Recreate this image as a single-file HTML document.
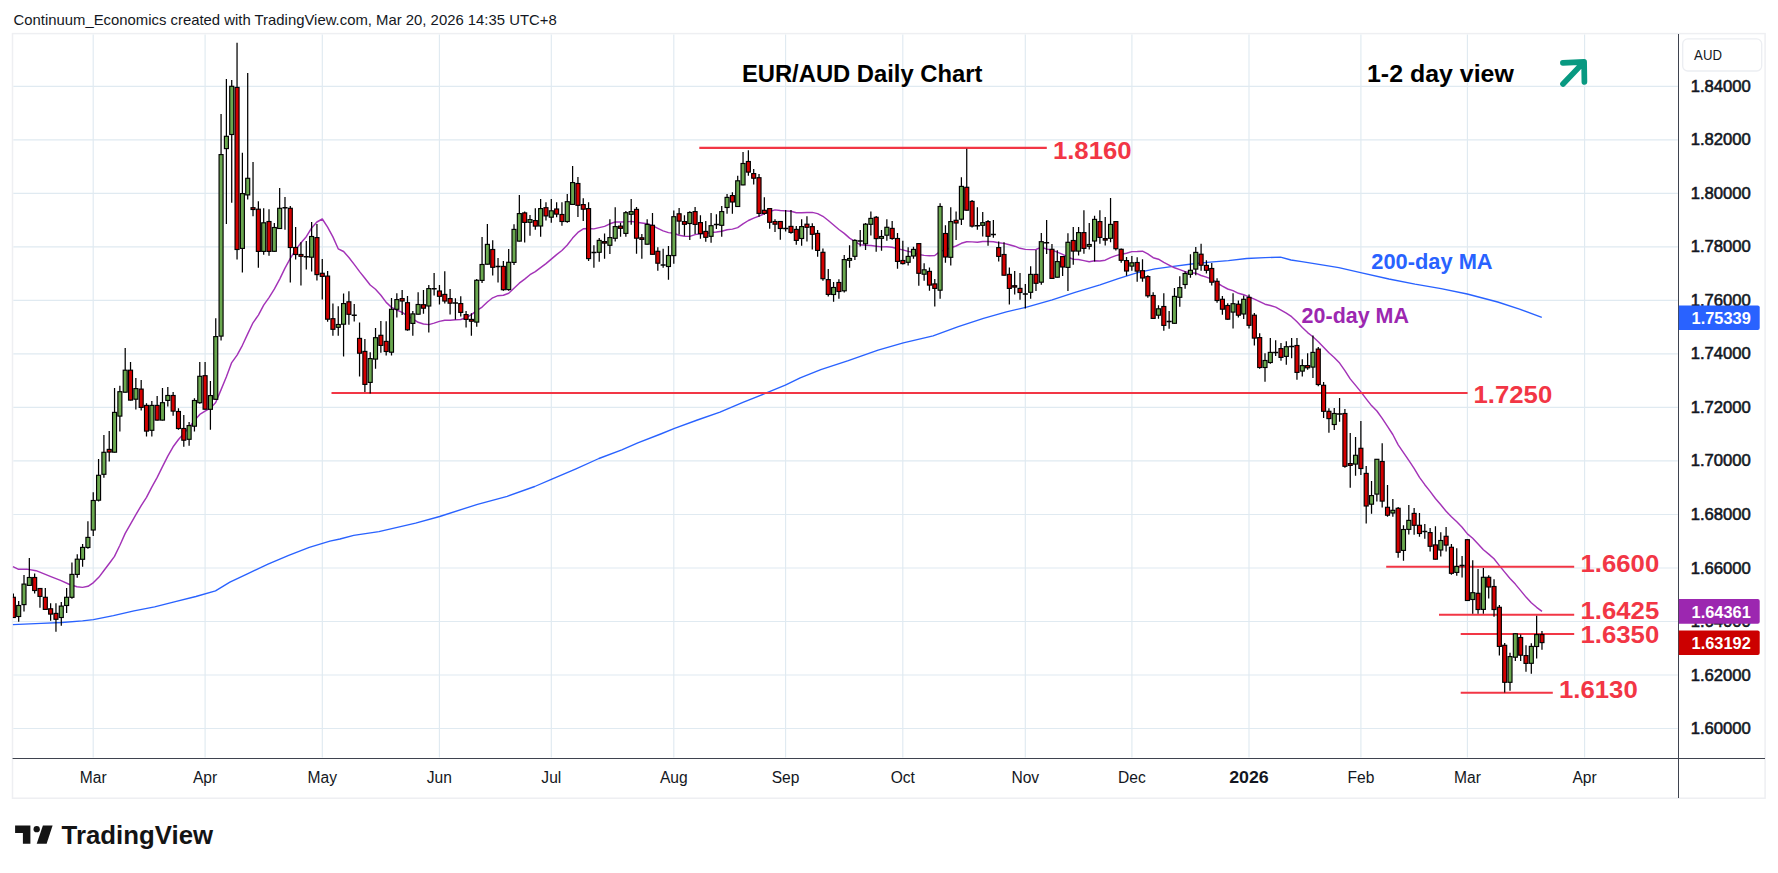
<!DOCTYPE html>
<html><head><meta charset="utf-8"><title>EUR/AUD Daily Chart</title>
<style>html,body{margin:0;padding:0;background:#fff}body{width:1778px;height:873px;overflow:hidden}svg{display:block}</style>
</head><body>
<svg width="1778" height="873" viewBox="0 0 1778 873">
<rect width="1778" height="873" fill="#ffffff"/>
<rect x="12.5" y="33.6" width="1752.6" height="764.6" fill="#ffffff" stroke="#eeeff2" stroke-width="1.5"/>
<path d="M93.2 34.4V757.5M205.1 34.4V757.5M322.3 34.4V757.5M439.4 34.4V757.5M551.3 34.4V757.5M673.8 34.4V757.5M785.6 34.4V757.5M902.8 34.4V757.5M1025.3 34.4V757.5M1131.9 34.4V757.5M1249.0 34.4V757.5M1360.9 34.4V757.5M1467.4 34.4V757.5M1584.6 34.4V757.5M13.3 728.5H1677.8M13.3 675.0H1677.8M13.3 621.5H1677.8M13.3 568.0H1677.8M13.3 514.5H1677.8M13.3 460.9H1677.8M13.3 407.4H1677.8M13.3 353.9H1677.8M13.3 300.4H1677.8M13.3 246.9H1677.8M13.3 193.4H1677.8M13.3 139.9H1677.8M13.3 86.4H1677.8" stroke="#e0eaf1" stroke-width="1.15" fill="none"/>
<polyline points="12.9,624.7 41.2,623.3 61.9,622.5 82.5,620.8 93.4,619.6 113.4,615.7 134.0,610.9 154.6,606.8 175.3,601.6 195.9,596.5 215.5,590.9 229.9,582.1 247.4,573.8 268.0,564.1 288.7,555.3 309.3,547.4 329.9,541.2 340.0,539.0 353.7,535.3 378.9,531.6 415.6,523.1 439.7,516.5 477.5,504.3 507.2,496.3 534.7,486.5 551.9,479.1 576.0,468.8 598.9,458.5 621.8,449.8 637.8,442.9 660.7,434.0 674.5,428.3 697.4,420.0 720.0,412.2 742.9,402.3 765.8,393.2 785.3,385.2 800.2,377.8 820.8,369.6 848.3,360.7 878.1,350.1 903.3,342.8 933.1,335.9 958.3,326.7 983.5,318.3 1006.4,311.9 1025.8,307.3 1052.2,299.9 1075.1,292.4 1100.0,284.9 1118.3,278.7 1136.7,272.8 1155.0,268.9 1173.3,266.4 1191.6,264.0 1210.0,262.2 1228.3,260.7 1246.6,258.5 1265.0,257.6 1280.5,257.2 1291.0,260.0 1301.8,261.6 1323.5,265.2 1338.8,267.6 1360.6,272.7 1388.9,279.0 1415.0,284.2 1441.1,288.6 1467.2,294.0 1497.7,302.0 1519.5,309.2 1541.8,317.3" fill="none" stroke="#2962ff" stroke-width="1.35" stroke-linejoin="round"/>
<polyline points="12.9,566.6 18.6,569.3 26.8,569.1 36.1,570.7 51.5,576.9 60.5,580.4 69.6,584.5 77.0,586.7 82.5,587.4 88.0,586.3 93.5,582.6 99.0,577.1 104.5,569.8 110.0,562.5 114.5,556.4 119.9,545.2 125.2,533.4 130.5,524.2 135.9,514.7 141.2,505.6 146.5,497.3 151.8,487.1 157.2,477.4 162.5,466.6 167.8,456.1 173.1,446.8 178.5,439.5 183.8,433.5 189.1,427.4 194.4,420.6 199.8,414.4 205.1,411.1 210.4,408.2 215.7,402.5 221.1,389.6 226.4,376.8 231.7,362.6 237.1,355.1 242.4,345.3 247.7,333.9 253.0,322.8 258.4,315.1 263.7,305.2 269.0,297.6 274.3,289.2 279.7,279.1 285.0,268.1 290.3,258.4 295.6,249.9 301.0,242.7 306.3,236.7 311.6,228.0 316.9,222.0 322.3,219.0 327.6,227.2 332.9,236.9 338.2,248.8 343.6,251.5 348.9,257.5 354.2,264.4 359.6,271.6 364.9,278.2 370.2,285.0 375.5,289.3 380.9,295.2 386.2,302.4 391.5,307.4 396.8,310.0 402.2,312.4 407.5,316.0 412.8,318.9 418.1,322.3 423.5,324.0 428.8,324.6 434.1,323.1 439.4,321.4 444.8,320.2 450.1,320.2 455.4,319.7 460.8,319.5 466.1,317.8 471.4,314.7 476.7,310.7 482.1,307.1 487.4,302.0 492.7,297.8 498.0,295.7 503.4,295.2 508.7,293.3 514.0,288.3 519.3,283.2 524.7,279.1 530.0,274.7 535.3,271.6 540.6,267.6 546.0,263.6 551.3,259.1 556.6,254.6 561.9,250.5 567.3,245.0 572.6,238.1 577.9,232.4 583.3,228.8 588.6,228.5 593.9,228.9 599.2,227.6 604.6,226.4 609.9,223.8 615.2,222.0 620.5,222.0 625.9,221.9 631.2,221.4 636.5,222.3 641.8,223.0 647.2,223.8 652.5,225.7 657.8,228.3 663.1,230.9 668.5,232.6 673.8,233.3 679.1,235.2 684.5,236.2 689.8,236.4 695.1,234.6 700.4,233.7 705.8,233.5 711.1,232.6 716.4,232.0 721.7,231.2 727.1,229.7 732.4,229.1 737.7,227.6 743.0,223.9 748.4,220.5 753.7,218.2 759.0,216.1 764.3,213.7 769.7,211.5 775.0,209.9 780.3,210.5 785.6,210.9 791.0,211.3 796.3,212.7 801.6,212.8 807.0,212.5 812.3,212.4 817.6,213.6 822.9,216.3 828.3,220.5 833.6,225.0 838.9,229.5 844.2,233.4 849.6,238.1 854.9,241.6 860.2,244.7 865.5,245.2 870.9,245.5 876.2,246.3 881.5,246.9 886.8,246.8 892.2,247.3 897.5,248.8 902.8,249.9 908.2,251.4 913.5,252.5 918.8,254.5 924.1,255.4 929.5,255.8 934.8,255.5 940.1,251.4 945.4,249.7 950.8,247.8 956.1,246.0 961.4,243.3 966.7,241.8 972.1,241.9 977.4,242.3 982.7,241.5 988.0,241.5 993.4,241.8 998.7,242.7 1004.0,243.4 1009.3,244.7 1014.7,246.2 1020.0,248.3 1025.3,249.4 1030.7,249.6 1036.0,249.5 1041.3,247.2 1046.6,249.0 1052.0,250.1 1057.3,252.1 1062.6,254.3 1067.9,257.1 1073.3,259.2 1078.6,259.5 1083.9,260.6 1089.2,261.7 1094.6,260.8 1099.9,261.0 1105.2,260.2 1110.5,257.6 1115.9,255.6 1121.2,254.3 1126.5,253.2 1131.9,251.6 1137.2,251.5 1142.5,251.2 1147.8,253.9 1153.2,257.7 1158.5,259.2 1163.8,262.4 1169.1,265.1 1174.5,267.8 1179.8,269.6 1185.1,271.7 1190.4,272.8 1195.8,273.2 1201.1,275.5 1206.4,277.1 1211.7,279.2 1217.1,283.0 1222.4,286.1 1227.7,289.0 1233.0,290.6 1238.4,293.3 1243.7,294.7 1249.0,297.0 1254.4,299.1 1259.7,301.6 1265.0,304.2 1270.3,305.5 1275.7,307.1 1281.0,310.1 1286.3,313.1 1291.6,316.7 1297.0,321.8 1302.3,327.5 1307.6,332.6 1312.9,336.7 1318.3,341.8 1323.6,347.3 1328.9,352.8 1334.2,357.5 1339.6,363.1 1344.9,370.6 1350.2,378.9 1355.6,385.4 1360.9,391.9 1366.2,398.9 1371.5,405.6 1376.9,411.0 1382.2,418.4 1387.5,426.3 1392.8,434.5 1398.2,444.8 1403.5,452.6 1408.8,460.4 1414.1,468.3 1419.5,477.3 1424.8,484.7 1430.1,491.4 1435.4,498.5 1440.8,504.8 1446.1,511.3 1451.4,516.7 1456.8,521.8 1462.1,527.3 1467.4,533.9 1472.7,538.2 1478.1,543.9 1483.4,549.8 1488.7,554.1 1494.0,558.8 1499.4,565.6 1504.7,572.1 1510.0,578.5 1515.3,584.1 1520.7,590.6 1526.0,597.1 1531.3,602.8 1536.6,607.3 1542.0,611.4" fill="none" stroke="#a333b7" stroke-width="1.45" stroke-linejoin="round"/>
<path d="M699.3 147.9H1046.8M331.5 393.0H1467.6M1386.2 566.7H1574.2M1439.0 614.7H1574.2M1460.7 634.0H1574.2M1460.7 692.7H1552.8" stroke="#f23645" stroke-width="2.1" fill="none"/>
<clipPath id="cp"><rect x="12.9" y="34.4" width="1664.9" height="723.3"/></clipPath>
<g clip-path="url(#cp)">
<path d="M13.35 593.6V617.8M18.68 601.0V621.7M24.00 574.9V611.6M29.33 557.9V585.8M34.65 573.5V593.6M39.98 588.1V607.7M45.31 588.1V609.8M50.63 603.2V620.8M55.96 603.2V631.8M61.29 601.9V625.7M66.61 588.1V612.9M71.94 562.5V598.8M77.26 554.2V577.7M82.59 544.1V566.7M87.92 521.2V548.7M93.24 492.3V535.9M98.57 459.1V501.6M103.90 434.9V477.8M109.22 431.1V461.5M114.55 388.0V452.5M119.87 385.8V431.6M125.20 347.9V392.6M130.53 362.0V400.5M135.85 378.1V409.6M141.18 380.0V410.6M146.50 403.2V436.6M151.83 401.0V436.6M157.16 395.9V420.5M162.48 388.0V420.5M167.81 387.1V406.5M173.14 391.9V415.7M178.46 408.2V429.8M183.79 415.1V446.7M189.11 422.1V445.8M194.44 398.3V431.6M199.77 362.0V403.8M205.09 362.0V409.6M210.42 381.0V429.8M215.75 318.3V399.6M221.07 113.9V340.6M226.40 78.9V223.9M231.72 79.9V202.8M237.05 42.8V259.6M242.38 152.7V272.4M247.70 73.1V199.5M253.03 161.9V216.3M258.36 201.3V267.7M263.68 208.3V254.8M269.01 209.2V255.8M274.33 222.9V251.7M279.66 188.1V228.8M284.99 197.1V229.7M290.31 205.9V282.5M295.64 227.0V259.6M300.96 242.2V285.6M306.29 241.1V269.5M311.62 222.0V271.5M316.94 223.9V280.5M322.27 259.0V299.4M327.60 271.0V321.8M332.92 303.4V335.7M338.25 306.2V335.7M343.57 293.4V356.6M348.90 291.3V324.7M354.23 304.1V321.6M359.55 322.5V376.5M364.88 339.0V392.1M370.21 352.3V393.6M375.53 328.0V368.7M380.86 321.0V352.7M386.18 321.2V355.5M391.51 298.1V355.5M396.84 293.2V317.5M402.16 289.9V315.1M407.49 295.9V330.7M412.82 311.1V335.7M418.14 292.2V314.6M423.47 289.9V313.7M428.79 284.9V332.6M434.12 273.0V295.5M439.45 284.9V304.5M444.77 271.2V303.6M450.10 288.9V314.6M455.42 298.3V319.4M460.75 296.3V316.6M466.08 311.1V327.6M471.40 313.3V335.7M476.73 279.0V326.7M482.06 237.1V282.9M487.38 223.9V264.5M492.71 240.2V275.5M498.03 258.1V282.5M503.36 260.9V290.8M508.69 249.0V290.8M514.01 224.2V264.9M519.34 194.9V241.5M524.67 211.4V242.6M529.99 215.1V235.8M535.32 208.3V229.7M540.64 199.1V236.7M545.97 202.2V220.6M551.30 199.1V222.8M556.62 202.2V217.3M561.95 202.2V225.7M567.27 194.0V222.8M572.60 166.1V204.8M577.93 177.1V216.9M583.25 198.2V220.9M588.58 202.2V260.9M593.91 245.3V267.7M599.23 238.0V261.8M604.56 233.4V258.7M609.88 219.3V253.9M615.21 207.2V241.6M620.54 222.8V236.7M625.86 211.0V236.7M631.19 199.1V224.8M636.52 207.0V253.7M641.84 234.1V258.8M647.17 219.3V244.5M652.49 213.0V254.6M657.82 247.3V270.8M663.15 248.8V267.8M668.47 246.0V279.7M673.80 210.6V263.8M679.12 207.9V234.5M684.45 215.2V235.8M689.78 211.2V240.0M695.10 207.0V233.9M700.43 215.2V238.7M705.76 221.1V241.8M711.08 213.0V242.7M716.41 214.3V229.0M721.73 206.1V236.8M727.06 194.1V213.8M732.39 192.3V213.8M737.71 175.8V206.8M743.04 152.0V185.3M748.37 150.2V175.8M753.69 169.0V184.4M759.02 174.0V216.7M764.34 197.3V214.7M769.67 208.3V228.8M775.00 219.3V231.9M780.32 221.1V239.8M785.65 210.1V231.6M790.98 210.1V233.8M796.30 226.1V244.8M801.63 219.3V245.7M806.95 216.3V241.6M812.28 223.3V249.5M817.61 230.1V256.8M822.93 248.4V280.7M828.26 269.1V296.6M833.58 282.0V301.8M838.91 279.2V298.8M844.24 255.0V292.6M849.56 245.3V267.8M854.89 239.3V260.0M860.22 230.1V246.6M865.54 222.9V249.9M870.87 211.4V235.6M876.19 216.0V251.7M881.52 230.1V250.8M886.85 219.3V240.7M892.17 221.1V239.8M897.50 233.0V268.8M902.83 240.7V264.5M908.15 247.2V265.5M913.48 246.8V258.8M918.80 243.2V285.7M924.13 263.3V280.8M929.46 267.4V290.7M934.78 278.9V306.6M940.11 203.2V298.7M945.44 225.2V262.8M950.76 207.3V265.5M956.09 211.5V239.9M961.41 177.2V224.9M966.74 148.8V210.6M972.07 199.9V227.6M977.39 207.3V229.8M982.72 212.0V236.6M988.04 220.1V245.8M993.37 220.1V237.7M998.70 241.4V261.5M1004.02 242.3V275.6M1009.35 267.4V304.6M1014.68 271.0V294.6M1020.00 273.0V299.7M1025.33 284.0V308.6M1030.65 266.2V298.7M1035.98 250.0V290.9M1041.31 233.0V284.7M1046.63 220.0V253.9M1051.96 244.1V278.8M1057.29 250.2V277.5M1062.61 256.1V275.9M1067.94 233.2V290.9M1073.26 227.1V264.7M1078.59 227.1V255.5M1083.92 210.2V253.7M1089.24 223.1V249.6M1094.57 215.7V261.6M1099.89 210.2V243.8M1105.22 217.0V245.6M1110.55 198.0V242.3M1115.87 221.2V250.6M1121.20 248.4V262.8M1126.53 257.0V275.7M1131.85 256.1V270.7M1137.18 257.3V281.7M1142.50 259.2V281.7M1147.83 275.3V297.8M1153.16 292.3V318.7M1158.48 305.2V318.7M1163.81 293.3V330.8M1169.14 311.0V328.8M1174.46 288.1V323.7M1179.79 276.2V306.8M1185.11 271.3V288.7M1190.44 254.2V277.7M1195.77 247.0V275.3M1201.09 243.7V270.7M1206.42 260.2V273.6M1211.74 263.0V285.5M1217.07 278.2V302.8M1222.40 296.0V314.7M1227.72 303.3V319.8M1233.05 293.2V328.6M1238.38 300.6V317.6M1243.70 295.4V318.9M1249.03 294.5V328.6M1254.35 313.0V345.5M1259.68 333.2V368.7M1265.01 353.2V381.8M1270.33 338.1V363.8M1275.66 340.3V356.1M1280.99 343.1V360.7M1286.31 341.2V364.7M1291.64 338.1V358.3M1296.96 338.1V379.7M1302.29 359.2V376.6M1307.62 353.2V369.8M1312.94 335.4V378.1M1318.27 346.9V386.2M1323.60 382.0V418.1M1328.92 408.2V432.8M1334.25 408.0V430.0M1339.57 398.1V421.8M1344.90 409.1V467.8M1350.23 432.9V487.7M1355.55 437.0V475.8M1360.88 421.0V474.9M1366.20 466.1V523.5M1371.53 481.0V513.8M1376.86 459.3V501.5M1382.18 443.2V507.5M1387.51 485.0V516.7M1392.84 499.1V516.7M1398.16 507.0V557.7M1403.49 525.3V560.7M1408.81 505.1V534.5M1414.14 507.9V534.8M1419.47 513.0V536.7M1424.79 524.0V538.7M1430.12 528.1V551.5M1435.45 526.2V559.6M1440.77 532.3V556.5M1446.10 527.1V551.5M1451.42 544.0V574.8M1456.75 548.2V575.7M1462.08 556.1V577.5M1467.40 539.2V600.9M1472.73 560.2V613.7M1478.05 568.9V613.7M1483.38 568.0V613.7M1488.71 575.2V598.5M1494.03 579.3V616.7M1499.36 605.0V655.6M1504.69 642.9V692.6M1510.01 652.7V690.7M1515.34 633.2V660.9M1520.66 634.6V660.9M1525.99 645.3V671.8M1531.32 643.3V673.7M1536.64 615.7V658.5M1541.97 630.9V649.8" stroke="#000" stroke-width="1.25" fill="none"/>
<path d="M282.44 207.7H287.54M303.74 256.8H308.84M351.68 315.3H356.78M431.57 288.8H436.67M452.87 303.0H457.97M495.48 266.4H500.58M591.36 252.6H596.46M660.60 265.0H665.70M713.86 224.5H718.96M783.10 228.6H788.20M857.67 241.1H862.77M974.84 225.8H979.94M990.82 234.6H995.92M1022.78 294.1H1027.88M1044.08 242.7H1049.18M1166.59 321.5H1171.69M1273.11 352.6H1278.21M1289.09 346.5H1294.19M1337.02 413.9H1342.12M1422.24 531.4H1427.34M1459.53 565.6H1464.63" stroke="#000" stroke-width="1.5" fill="none"/>
<g fill="#6aa84f" stroke="#000" stroke-width="1.15"><rect x="16.68" y="605.5" width="4.0" height="11.0"/><rect x="22.00" y="584.1" width="4.0" height="20.5"/><rect x="27.33" y="577.5" width="4.0" height="7.9"/><rect x="59.29" y="606.1" width="4.0" height="11.4"/><rect x="64.61" y="597.3" width="4.0" height="8.2"/><rect x="69.94" y="574.4" width="4.0" height="22.9"/><rect x="75.26" y="559.2" width="4.0" height="15.2"/><rect x="80.59" y="547.4" width="4.0" height="11.9"/><rect x="85.92" y="537.4" width="4.0" height="10.1"/><rect x="91.24" y="500.5" width="4.0" height="29.5"/><rect x="96.57" y="475.3" width="4.0" height="24.9"/><rect x="101.90" y="452.3" width="4.0" height="22.0"/><rect x="112.55" y="412.4" width="4.0" height="39.8"/><rect x="117.87" y="391.7" width="4.0" height="24.4"/><rect x="123.20" y="370.2" width="4.0" height="22.0"/><rect x="133.85" y="388.6" width="4.0" height="10.6"/><rect x="149.83" y="405.4" width="4.0" height="24.9"/><rect x="160.48" y="402.7" width="4.0" height="17.4"/><rect x="165.81" y="395.5" width="4.0" height="4.9"/><rect x="187.11" y="425.6" width="4.0" height="13.7"/><rect x="192.44" y="400.5" width="4.0" height="25.7"/><rect x="197.77" y="376.3" width="4.0" height="26.4"/><rect x="208.42" y="395.6" width="4.0" height="13.7"/><rect x="213.75" y="336.6" width="4.0" height="62.7"/><rect x="219.07" y="154.6" width="4.0" height="181.5"/><rect x="224.40" y="136.3" width="4.0" height="12.3"/><rect x="229.72" y="86.3" width="4.0" height="48.2"/><rect x="240.38" y="193.6" width="4.0" height="54.8"/><rect x="245.70" y="178.3" width="4.0" height="16.6"/><rect x="261.68" y="222.8" width="4.0" height="28.6"/><rect x="272.33" y="227.5" width="4.0" height="23.8"/><rect x="277.66" y="208.3" width="4.0" height="20.2"/><rect x="309.62" y="236.5" width="4.0" height="20.7"/><rect x="336.25" y="324.5" width="4.0" height="2.8"/><rect x="341.57" y="303.6" width="4.0" height="20.6"/><rect x="368.21" y="358.6" width="4.0" height="23.8"/><rect x="373.53" y="337.7" width="4.0" height="21.4"/><rect x="389.51" y="309.3" width="4.0" height="42.9"/><rect x="394.84" y="299.6" width="4.0" height="9.7"/><rect x="410.82" y="313.9" width="4.0" height="9.5"/><rect x="416.14" y="304.5" width="4.0" height="9.7"/><rect x="426.79" y="288.6" width="4.0" height="17.4"/><rect x="474.73" y="280.3" width="4.0" height="41.8"/><rect x="480.06" y="264.5" width="4.0" height="15.9"/><rect x="485.38" y="244.4" width="4.0" height="19.8"/><rect x="506.69" y="262.3" width="4.0" height="27.3"/><rect x="512.01" y="229.4" width="4.0" height="33.0"/><rect x="517.34" y="213.6" width="4.0" height="27.5"/><rect x="527.99" y="219.6" width="4.0" height="2.7"/><rect x="538.64" y="208.6" width="4.0" height="17.4"/><rect x="549.30" y="210.8" width="4.0" height="6.4"/><rect x="565.27" y="201.7" width="4.0" height="19.8"/><rect x="570.60" y="182.6" width="4.0" height="21.8"/><rect x="597.23" y="240.4" width="4.0" height="11.9"/><rect x="607.88" y="237.6" width="4.0" height="7.7"/><rect x="613.21" y="226.6" width="4.0" height="11.7"/><rect x="623.86" y="212.7" width="4.0" height="20.7"/><rect x="629.19" y="211.6" width="4.0" height="2.7"/><rect x="645.17" y="224.4" width="4.0" height="19.8"/><rect x="666.47" y="255.5" width="4.0" height="11.0"/><rect x="671.80" y="216.7" width="4.0" height="38.9"/><rect x="687.78" y="212.5" width="4.0" height="11.0"/><rect x="709.08" y="225.7" width="4.0" height="10.6"/><rect x="719.73" y="211.6" width="4.0" height="13.7"/><rect x="725.06" y="197.4" width="4.0" height="10.1"/><rect x="735.71" y="180.8" width="4.0" height="25.7"/><rect x="741.04" y="163.5" width="4.0" height="21.4"/><rect x="799.63" y="226.6" width="4.0" height="11.9"/><rect x="831.58" y="287.5" width="4.0" height="7.0"/><rect x="842.24" y="259.6" width="4.0" height="31.2"/><rect x="847.56" y="258.5" width="4.0" height="1.8"/><rect x="852.89" y="240.4" width="4.0" height="15.9"/><rect x="863.54" y="224.2" width="4.0" height="19.6"/><rect x="868.87" y="218.4" width="4.0" height="5.9"/><rect x="879.52" y="236.5" width="4.0" height="1.8"/><rect x="884.85" y="227.3" width="4.0" height="7.9"/><rect x="906.15" y="256.4" width="4.0" height="5.9"/><rect x="911.48" y="249.4" width="4.0" height="6.6"/><rect x="922.13" y="269.8" width="4.0" height="4.4"/><rect x="938.11" y="206.5" width="4.0" height="83.7"/><rect x="948.76" y="221.6" width="4.0" height="35.7"/><rect x="959.41" y="186.4" width="4.0" height="32.8"/><rect x="980.72" y="222.7" width="4.0" height="2.6"/><rect x="1028.65" y="274.4" width="4.0" height="17.9"/><rect x="1039.31" y="241.7" width="4.0" height="40.5"/><rect x="1055.29" y="261.6" width="4.0" height="15.6"/><rect x="1065.94" y="242.3" width="4.0" height="25.1"/><rect x="1076.59" y="232.6" width="4.0" height="18.5"/><rect x="1087.24" y="244.5" width="4.0" height="1.8"/><rect x="1092.57" y="219.4" width="4.0" height="21.6"/><rect x="1108.55" y="224.4" width="4.0" height="13.9"/><rect x="1129.85" y="262.8" width="4.0" height="3.3"/><rect x="1156.48" y="308.8" width="4.0" height="6.4"/><rect x="1172.46" y="296.4" width="4.0" height="26.9"/><rect x="1177.79" y="287.6" width="4.0" height="9.7"/><rect x="1183.11" y="273.5" width="4.0" height="11.0"/><rect x="1188.44" y="270.3" width="4.0" height="4.0"/><rect x="1193.77" y="252.4" width="4.0" height="16.7"/><rect x="1231.05" y="303.7" width="4.0" height="8.4"/><rect x="1241.70" y="299.3" width="4.0" height="14.7"/><rect x="1263.01" y="360.5" width="4.0" height="7.0"/><rect x="1268.33" y="352.4" width="4.0" height="10.1"/><rect x="1284.31" y="346.7" width="4.0" height="9.7"/><rect x="1300.29" y="365.6" width="4.0" height="5.5"/><rect x="1310.94" y="352.4" width="4.0" height="14.7"/><rect x="1332.25" y="413.5" width="4.0" height="11.0"/><rect x="1353.55" y="455.3" width="4.0" height="8.8"/><rect x="1369.53" y="495.6" width="4.0" height="8.6"/><rect x="1374.86" y="459.3" width="4.0" height="34.8"/><rect x="1390.84" y="510.3" width="4.0" height="2.7"/><rect x="1401.49" y="529.5" width="4.0" height="20.9"/><rect x="1406.81" y="520.4" width="4.0" height="9.0"/><rect x="1438.77" y="540.5" width="4.0" height="9.5"/><rect x="1454.75" y="566.5" width="4.0" height="5.9"/><rect x="1470.73" y="592.7" width="4.0" height="6.8"/><rect x="1481.38" y="577.3" width="4.0" height="32.1"/><rect x="1508.01" y="656.6" width="4.0" height="25.7"/><rect x="1513.34" y="633.8" width="4.0" height="23.4"/><rect x="1529.32" y="646.4" width="4.0" height="16.9"/><rect x="1534.64" y="634.6" width="4.0" height="11.9"/></g>
<g fill="#d40000" stroke="#000" stroke-width="1.15"><rect x="11.35" y="597.3" width="4.0" height="20.2"/><rect x="32.65" y="577.5" width="4.0" height="13.0"/><rect x="37.98" y="588.5" width="4.0" height="7.9"/><rect x="43.31" y="597.3" width="4.0" height="12.1"/><rect x="48.63" y="608.8" width="4.0" height="5.3"/><rect x="53.96" y="613.4" width="4.0" height="5.9"/><rect x="107.22" y="449.4" width="4.0" height="2.7"/><rect x="128.53" y="370.2" width="4.0" height="29.9"/><rect x="139.18" y="389.1" width="4.0" height="18.3"/><rect x="144.50" y="405.4" width="4.0" height="25.7"/><rect x="155.16" y="405.4" width="4.0" height="14.7"/><rect x="171.14" y="395.5" width="4.0" height="15.6"/><rect x="176.46" y="411.5" width="4.0" height="17.0"/><rect x="181.79" y="428.5" width="4.0" height="11.7"/><rect x="203.09" y="375.7" width="4.0" height="33.5"/><rect x="235.05" y="87.4" width="4.0" height="162.1"/><rect x="251.03" y="207.7" width="4.0" height="1.8"/><rect x="256.36" y="209.2" width="4.0" height="42.2"/><rect x="267.01" y="221.5" width="4.0" height="29.9"/><rect x="288.31" y="208.3" width="4.0" height="39.2"/><rect x="293.64" y="247.5" width="4.0" height="7.0"/><rect x="298.96" y="254.5" width="4.0" height="1.8"/><rect x="314.94" y="237.6" width="4.0" height="37.0"/><rect x="320.27" y="273.3" width="4.0" height="3.1"/><rect x="325.60" y="276.1" width="4.0" height="43.1"/><rect x="330.92" y="318.7" width="4.0" height="10.6"/><rect x="346.90" y="301.8" width="4.0" height="12.5"/><rect x="357.55" y="338.4" width="4.0" height="14.8"/><rect x="362.88" y="351.4" width="4.0" height="33.0"/><rect x="378.86" y="335.3" width="4.0" height="10.1"/><rect x="384.18" y="341.4" width="4.0" height="10.1"/><rect x="400.16" y="298.6" width="4.0" height="2.4"/><rect x="405.49" y="302.7" width="4.0" height="27.1"/><rect x="421.47" y="304.7" width="4.0" height="3.5"/><rect x="437.45" y="291.0" width="4.0" height="5.3"/><rect x="442.77" y="294.4" width="4.0" height="6.6"/><rect x="448.10" y="298.6" width="4.0" height="4.6"/><rect x="458.75" y="303.6" width="4.0" height="8.8"/><rect x="464.08" y="314.6" width="4.0" height="4.8"/><rect x="469.40" y="319.4" width="4.0" height="1.8"/><rect x="490.71" y="249.5" width="4.0" height="17.8"/><rect x="501.36" y="266.4" width="4.0" height="23.3"/><rect x="522.67" y="212.9" width="4.0" height="9.5"/><rect x="533.32" y="220.6" width="4.0" height="5.5"/><rect x="543.97" y="207.7" width="4.0" height="8.2"/><rect x="554.62" y="209.0" width="4.0" height="5.1"/><rect x="559.95" y="214.5" width="4.0" height="7.0"/><rect x="575.93" y="183.5" width="4.0" height="21.8"/><rect x="581.25" y="204.6" width="4.0" height="4.6"/><rect x="586.58" y="208.6" width="4.0" height="50.0"/><rect x="602.56" y="241.6" width="4.0" height="1.5"/><rect x="618.54" y="226.1" width="4.0" height="2.2"/><rect x="634.52" y="209.4" width="4.0" height="28.8"/><rect x="639.84" y="237.8" width="4.0" height="1.6"/><rect x="650.49" y="225.3" width="4.0" height="29.0"/><rect x="655.82" y="251.3" width="4.0" height="11.9"/><rect x="677.12" y="213.8" width="4.0" height="7.3"/><rect x="682.45" y="221.6" width="4.0" height="2.7"/><rect x="693.10" y="211.6" width="4.0" height="12.8"/><rect x="698.43" y="222.6" width="4.0" height="11.0"/><rect x="703.76" y="231.4" width="4.0" height="5.9"/><rect x="730.39" y="195.6" width="4.0" height="6.4"/><rect x="746.37" y="161.5" width="4.0" height="10.6"/><rect x="751.69" y="173.6" width="4.0" height="4.6"/><rect x="757.02" y="177.7" width="4.0" height="35.7"/><rect x="762.34" y="210.3" width="4.0" height="3.1"/><rect x="767.67" y="208.6" width="4.0" height="13.7"/><rect x="773.00" y="221.5" width="4.0" height="2.7"/><rect x="778.32" y="221.5" width="4.0" height="7.0"/><rect x="788.98" y="226.4" width="4.0" height="6.0"/><rect x="794.30" y="229.4" width="4.0" height="11.0"/><rect x="804.95" y="224.2" width="4.0" height="3.1"/><rect x="810.28" y="226.6" width="4.0" height="7.7"/><rect x="815.61" y="233.4" width="4.0" height="17.0"/><rect x="820.93" y="252.3" width="4.0" height="26.4"/><rect x="826.26" y="279.6" width="4.0" height="14.8"/><rect x="836.91" y="282.5" width="4.0" height="9.0"/><rect x="874.19" y="217.3" width="4.0" height="21.3"/><rect x="890.17" y="228.4" width="4.0" height="10.1"/><rect x="895.50" y="238.5" width="4.0" height="22.9"/><rect x="900.83" y="260.5" width="4.0" height="3.1"/><rect x="916.80" y="243.6" width="4.0" height="29.7"/><rect x="927.46" y="271.4" width="4.0" height="13.7"/><rect x="932.78" y="283.9" width="4.0" height="4.5"/><rect x="943.44" y="233.5" width="4.0" height="23.5"/><rect x="954.09" y="220.3" width="4.0" height="2.7"/><rect x="964.74" y="187.3" width="4.0" height="22.9"/><rect x="970.07" y="201.4" width="4.0" height="24.7"/><rect x="986.04" y="221.6" width="4.0" height="14.7"/><rect x="996.70" y="247.6" width="4.0" height="8.8"/><rect x="1002.02" y="254.5" width="4.0" height="20.7"/><rect x="1007.35" y="274.4" width="4.0" height="14.0"/><rect x="1012.68" y="285.7" width="4.0" height="1.4"/><rect x="1018.00" y="288.4" width="4.0" height="4.1"/><rect x="1033.98" y="274.4" width="4.0" height="8.9"/><rect x="1049.96" y="249.3" width="4.0" height="29.1"/><rect x="1060.61" y="256.6" width="4.0" height="10.4"/><rect x="1071.26" y="240.5" width="4.0" height="10.6"/><rect x="1081.92" y="232.6" width="4.0" height="15.8"/><rect x="1097.89" y="221.6" width="4.0" height="15.8"/><rect x="1103.22" y="238.6" width="4.0" height="1.5"/><rect x="1113.87" y="221.6" width="4.0" height="27.1"/><rect x="1119.20" y="249.3" width="4.0" height="11.0"/><rect x="1124.53" y="260.6" width="4.0" height="10.4"/><rect x="1135.18" y="262.5" width="4.0" height="8.6"/><rect x="1140.50" y="270.7" width="4.0" height="7.3"/><rect x="1145.83" y="276.6" width="4.0" height="19.2"/><rect x="1151.16" y="295.5" width="4.0" height="22.9"/><rect x="1161.81" y="306.5" width="4.0" height="18.9"/><rect x="1199.09" y="254.2" width="4.0" height="11.0"/><rect x="1204.42" y="265.4" width="4.0" height="4.9"/><rect x="1209.74" y="268.5" width="4.0" height="13.7"/><rect x="1215.07" y="281.3" width="4.0" height="19.2"/><rect x="1220.40" y="299.3" width="4.0" height="9.9"/><rect x="1225.72" y="305.5" width="4.0" height="13.7"/><rect x="1236.38" y="304.2" width="4.0" height="11.0"/><rect x="1247.03" y="297.4" width="4.0" height="27.9"/><rect x="1252.35" y="315.2" width="4.0" height="22.9"/><rect x="1257.68" y="337.6" width="4.0" height="29.9"/><rect x="1278.99" y="348.6" width="4.0" height="8.8"/><rect x="1294.96" y="345.5" width="4.0" height="26.9"/><rect x="1305.62" y="365.6" width="4.0" height="2.2"/><rect x="1316.27" y="349.1" width="4.0" height="35.4"/><rect x="1321.60" y="385.3" width="4.0" height="26.0"/><rect x="1326.92" y="411.3" width="4.0" height="7.3"/><rect x="1342.90" y="413.5" width="4.0" height="52.8"/><rect x="1348.23" y="463.6" width="4.0" height="1.8"/><rect x="1358.88" y="448.3" width="4.0" height="20.2"/><rect x="1364.20" y="473.4" width="4.0" height="32.6"/><rect x="1380.18" y="461.5" width="4.0" height="39.6"/><rect x="1385.51" y="507.3" width="4.0" height="7.9"/><rect x="1396.16" y="508.3" width="4.0" height="44.0"/><rect x="1412.14" y="513.4" width="4.0" height="11.9"/><rect x="1417.47" y="525.3" width="4.0" height="8.2"/><rect x="1428.12" y="532.6" width="4.0" height="13.7"/><rect x="1433.45" y="544.9" width="4.0" height="14.3"/><rect x="1444.10" y="536.3" width="4.0" height="8.8"/><rect x="1449.42" y="547.3" width="4.0" height="26.0"/><rect x="1465.40" y="539.7" width="4.0" height="60.8"/><rect x="1476.05" y="593.3" width="4.0" height="16.2"/><rect x="1486.71" y="577.3" width="4.0" height="9.7"/><rect x="1492.03" y="586.5" width="4.0" height="23.0"/><rect x="1497.36" y="607.3" width="4.0" height="39.1"/><rect x="1502.69" y="645.3" width="4.0" height="37.0"/><rect x="1518.66" y="637.5" width="4.0" height="17.7"/><rect x="1523.99" y="655.6" width="4.0" height="7.8"/><rect x="1539.97" y="634.6" width="4.0" height="8.0"/></g>
</g>
<text x="1052.9" y="158.8" font-family='"Liberation Sans", Arial, sans-serif' font-size="24" fill="#f23645" font-weight="bold" text-anchor="start" textLength="78.7" lengthAdjust="spacingAndGlyphs">1.8160</text>
<text x="1473.5" y="402.6" font-family='"Liberation Sans", Arial, sans-serif' font-size="24" fill="#f23645" font-weight="bold" text-anchor="start" textLength="78.7" lengthAdjust="spacingAndGlyphs">1.7250</text>
<text x="1580.5" y="571.8" font-family='"Liberation Sans", Arial, sans-serif' font-size="24" fill="#f23645" font-weight="bold" text-anchor="start" textLength="78.7" lengthAdjust="spacingAndGlyphs">1.6600</text>
<text x="1580.5" y="619.0" font-family='"Liberation Sans", Arial, sans-serif' font-size="24" fill="#f23645" font-weight="bold" text-anchor="start" textLength="78.7" lengthAdjust="spacingAndGlyphs">1.6425</text>
<text x="1580.5" y="642.6" font-family='"Liberation Sans", Arial, sans-serif' font-size="24" fill="#f23645" font-weight="bold" text-anchor="start" textLength="78.7" lengthAdjust="spacingAndGlyphs">1.6350</text>
<text x="1559.0" y="698.4" font-family='"Liberation Sans", Arial, sans-serif' font-size="24" fill="#f23645" font-weight="bold" text-anchor="start" textLength="78.7" lengthAdjust="spacingAndGlyphs">1.6130</text>
<text x="1371.3" y="268.9" font-family='"Liberation Sans", Arial, sans-serif' font-size="22" fill="#2962ff" font-weight="bold" text-anchor="start" textLength="121.3" lengthAdjust="spacingAndGlyphs">200-day MA</text>
<text x="1301.6" y="322.9" font-family='"Liberation Sans", Arial, sans-serif' font-size="22" fill="#9c27b0" font-weight="bold" text-anchor="start" textLength="107.4" lengthAdjust="spacingAndGlyphs">20-day MA</text>
<text x="741.9" y="81.7" font-family='"Liberation Sans", Arial, sans-serif' font-size="24" fill="#000" font-weight="bold" text-anchor="start" textLength="240.5" lengthAdjust="spacingAndGlyphs">EUR/AUD Daily Chart</text>
<text x="1367.0" y="82.2" font-family='"Liberation Sans", Arial, sans-serif' font-size="24" fill="#000" font-weight="bold" text-anchor="start" textLength="146.8" lengthAdjust="spacingAndGlyphs">1-2 day view</text>
<path d="M1563 84L1583.6 62.4M1562.9 62.8L1584.1 61.8L1584.4 81.9" stroke="#089981" stroke-width="5.7" stroke-linecap="round" stroke-linejoin="round" fill="none"/>
<text x="13.5" y="24.8" font-family='"Liberation Sans", Arial, sans-serif' font-size="14.6" fill="#131722" font-weight="normal" text-anchor="start" textLength="543.2" lengthAdjust="spacingAndGlyphs">Continuum_Economics created with TradingView.com, Mar 20, 2026 14:35 UTC+8</text>
<path d="M1678.5 34V798M12.6 758.5H1765" stroke="#3f434f" stroke-width="1" fill="none"/>
<text x="1690.7" y="734.0" font-family='"Liberation Sans", Arial, sans-serif' font-size="15.6" fill="#131722" font-weight="normal" text-anchor="start" textLength="60.2" lengthAdjust="spacingAndGlyphs" stroke="#131722" stroke-width="0.55">1.60000</text>
<text x="1690.7" y="680.5" font-family='"Liberation Sans", Arial, sans-serif' font-size="15.6" fill="#131722" font-weight="normal" text-anchor="start" textLength="60.2" lengthAdjust="spacingAndGlyphs" stroke="#131722" stroke-width="0.55">1.62000</text>
<text x="1690.7" y="627.0" font-family='"Liberation Sans", Arial, sans-serif' font-size="15.6" fill="#131722" font-weight="normal" text-anchor="start" textLength="60.2" lengthAdjust="spacingAndGlyphs" stroke="#131722" stroke-width="0.55">1.64000</text>
<text x="1690.7" y="573.5" font-family='"Liberation Sans", Arial, sans-serif' font-size="15.6" fill="#131722" font-weight="normal" text-anchor="start" textLength="60.2" lengthAdjust="spacingAndGlyphs" stroke="#131722" stroke-width="0.55">1.66000</text>
<text x="1690.7" y="520.0" font-family='"Liberation Sans", Arial, sans-serif' font-size="15.6" fill="#131722" font-weight="normal" text-anchor="start" textLength="60.2" lengthAdjust="spacingAndGlyphs" stroke="#131722" stroke-width="0.55">1.68000</text>
<text x="1690.7" y="466.4" font-family='"Liberation Sans", Arial, sans-serif' font-size="15.6" fill="#131722" font-weight="normal" text-anchor="start" textLength="60.2" lengthAdjust="spacingAndGlyphs" stroke="#131722" stroke-width="0.55">1.70000</text>
<text x="1690.7" y="412.9" font-family='"Liberation Sans", Arial, sans-serif' font-size="15.6" fill="#131722" font-weight="normal" text-anchor="start" textLength="60.2" lengthAdjust="spacingAndGlyphs" stroke="#131722" stroke-width="0.55">1.72000</text>
<text x="1690.7" y="359.4" font-family='"Liberation Sans", Arial, sans-serif' font-size="15.6" fill="#131722" font-weight="normal" text-anchor="start" textLength="60.2" lengthAdjust="spacingAndGlyphs" stroke="#131722" stroke-width="0.55">1.74000</text>
<text x="1690.7" y="305.9" font-family='"Liberation Sans", Arial, sans-serif' font-size="15.6" fill="#131722" font-weight="normal" text-anchor="start" textLength="60.2" lengthAdjust="spacingAndGlyphs" stroke="#131722" stroke-width="0.55">1.76000</text>
<text x="1690.7" y="252.4" font-family='"Liberation Sans", Arial, sans-serif' font-size="15.6" fill="#131722" font-weight="normal" text-anchor="start" textLength="60.2" lengthAdjust="spacingAndGlyphs" stroke="#131722" stroke-width="0.55">1.78000</text>
<text x="1690.7" y="198.9" font-family='"Liberation Sans", Arial, sans-serif' font-size="15.6" fill="#131722" font-weight="normal" text-anchor="start" textLength="60.2" lengthAdjust="spacingAndGlyphs" stroke="#131722" stroke-width="0.55">1.80000</text>
<text x="1690.7" y="145.4" font-family='"Liberation Sans", Arial, sans-serif' font-size="15.6" fill="#131722" font-weight="normal" text-anchor="start" textLength="60.2" lengthAdjust="spacingAndGlyphs" stroke="#131722" stroke-width="0.55">1.82000</text>
<text x="1690.7" y="91.9" font-family='"Liberation Sans", Arial, sans-serif' font-size="15.6" fill="#131722" font-weight="normal" text-anchor="start" textLength="60.2" lengthAdjust="spacingAndGlyphs" stroke="#131722" stroke-width="0.55">1.84000</text>
<rect x="1682.7" y="38.9" width="79" height="32.1" rx="5" fill="#fff" stroke="#eceef2" stroke-width="1.3"/>
<text x="1694.1" y="59.6" font-family='"Liberation Sans", Arial, sans-serif' font-size="14" fill="#131722" font-weight="normal" text-anchor="start" textLength="27.8" lengthAdjust="spacingAndGlyphs">AUD</text>
<path d="M1678.8 305.4H1757.7a2 2 0 0 1 2 2V328.0a2 2 0 0 1 -2 2H1678.8Z" fill="#2962ff"/>
<text x="1691.6" y="323.8" font-family='"Liberation Sans", Arial, sans-serif' font-size="15.6" fill="#fff" font-weight="bold" text-anchor="start" textLength="59.2" lengthAdjust="spacingAndGlyphs">1.75339</text>
<path d="M1678.8 599.1H1757.7a2 2 0 0 1 2 2V621.7a2 2 0 0 1 -2 2H1678.8Z" fill="#9c27b0"/>
<text x="1691.6" y="617.5" font-family='"Liberation Sans", Arial, sans-serif' font-size="15.6" fill="#fff" font-weight="bold" text-anchor="start" textLength="59.2" lengthAdjust="spacingAndGlyphs">1.64361</text>
<path d="M1678.8 630.4H1757.7a2 2 0 0 1 2 2V653.0a2 2 0 0 1 -2 2H1678.8Z" fill="#cc0000"/>
<text x="1691.6" y="648.8" font-family='"Liberation Sans", Arial, sans-serif' font-size="15.6" fill="#fff" font-weight="bold" text-anchor="start" textLength="59.2" lengthAdjust="spacingAndGlyphs">1.63192</text>
<text x="93.2" y="783.4" font-family='"Liberation Sans", Arial, sans-serif' font-size="15.6" fill="#131722" font-weight="normal" text-anchor="middle">Mar</text>
<text x="205.1" y="783.4" font-family='"Liberation Sans", Arial, sans-serif' font-size="15.6" fill="#131722" font-weight="normal" text-anchor="middle">Apr</text>
<text x="322.3" y="783.4" font-family='"Liberation Sans", Arial, sans-serif' font-size="15.6" fill="#131722" font-weight="normal" text-anchor="middle">May</text>
<text x="439.4" y="783.4" font-family='"Liberation Sans", Arial, sans-serif' font-size="15.6" fill="#131722" font-weight="normal" text-anchor="middle">Jun</text>
<text x="551.3" y="783.4" font-family='"Liberation Sans", Arial, sans-serif' font-size="15.6" fill="#131722" font-weight="normal" text-anchor="middle">Jul</text>
<text x="673.8" y="783.4" font-family='"Liberation Sans", Arial, sans-serif' font-size="15.6" fill="#131722" font-weight="normal" text-anchor="middle">Aug</text>
<text x="785.6" y="783.4" font-family='"Liberation Sans", Arial, sans-serif' font-size="15.6" fill="#131722" font-weight="normal" text-anchor="middle">Sep</text>
<text x="902.8" y="783.4" font-family='"Liberation Sans", Arial, sans-serif' font-size="15.6" fill="#131722" font-weight="normal" text-anchor="middle">Oct</text>
<text x="1025.3" y="783.4" font-family='"Liberation Sans", Arial, sans-serif' font-size="15.6" fill="#131722" font-weight="normal" text-anchor="middle">Nov</text>
<text x="1131.9" y="783.4" font-family='"Liberation Sans", Arial, sans-serif' font-size="15.6" fill="#131722" font-weight="normal" text-anchor="middle">Dec</text>
<text x="1249.0" y="783.4" font-family='"Liberation Sans", Arial, sans-serif' font-size="15.6" fill="#131722" font-weight="bold" text-anchor="middle" textLength="39.6" lengthAdjust="spacingAndGlyphs">2026</text>
<text x="1360.9" y="783.4" font-family='"Liberation Sans", Arial, sans-serif' font-size="15.6" fill="#131722" font-weight="normal" text-anchor="middle">Feb</text>
<text x="1467.4" y="783.4" font-family='"Liberation Sans", Arial, sans-serif' font-size="15.6" fill="#131722" font-weight="normal" text-anchor="middle">Mar</text>
<text x="1584.6" y="783.4" font-family='"Liberation Sans", Arial, sans-serif' font-size="15.6" fill="#131722" font-weight="normal" text-anchor="middle">Apr</text>
<g fill="#141414"><path d="M15.1 825.5H30.4V843.7H22.9V832.9H15.1Z"/><circle cx="36.7" cy="829.2" r="3.15"/><path d="M42.9 825.5H52.6L46.6 843.7H36.7Z"/></g>
<text x="61.6" y="843.7" font-family='"Liberation Sans", Arial, sans-serif' font-size="25.4" fill="#141414" font-weight="bold" text-anchor="start" textLength="151.5" lengthAdjust="spacingAndGlyphs">TradingView</text>
</svg>
</body></html>
